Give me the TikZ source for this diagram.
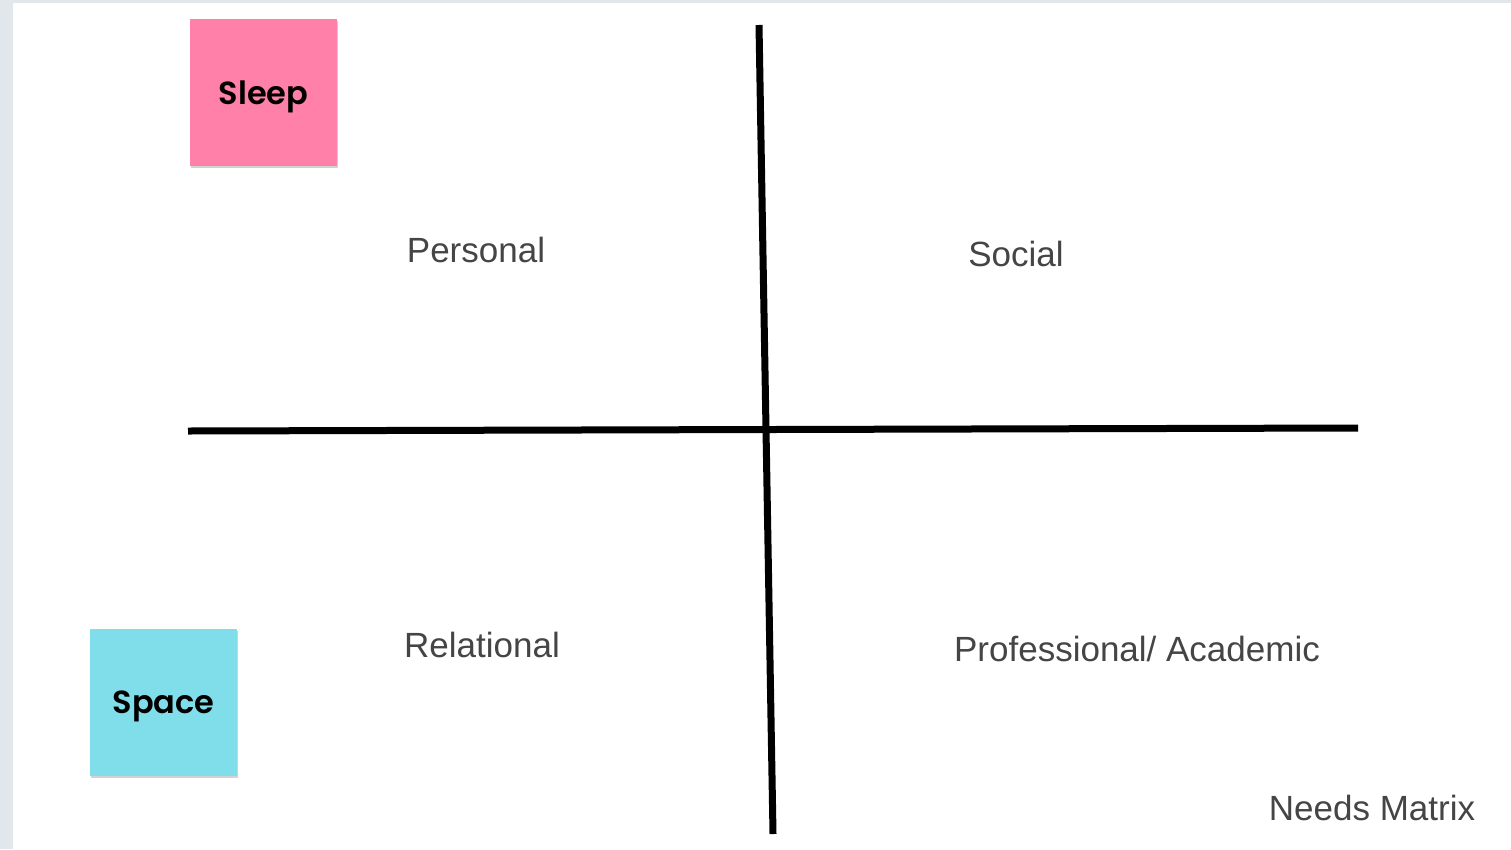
\documentclass[tikz,border=0pt]{standalone}
\usepackage{fontspec}
\setmainfont{Liberation Sans}
\newfontfamily\notefont{Poppins}[UprightFont=* SemiBold,BoldFont=* Bold]
\usetikzlibrary{shadows}
\definecolor{framegrey}{HTML}{E1E7EA}
\definecolor{notepink}{HTML}{FF80A8}
\definecolor{notecyan}{HTML}{80DEEA}
\definecolor{labelgrey}{HTML}{454545}
\tikzset{
  note/.style={minimum width=147pt,minimum height=147pt,inner sep=0pt,
    drop shadow={shadow xshift=1pt,shadow yshift=-2pt,fill=black!35,opacity=0.5}},
  notetext/.style={font=\notefont\fontsize{32}{36}\selectfont,text=black,inner sep=0pt,anchor=base},
  quadlabel/.style={font=\fontsize{35}{40}\selectfont,text=labelgrey,inner sep=0pt},
  axis/.style={line width=7pt,black}
}
\begin{document}
\begin{tikzpicture}[x=1pt,y=-1pt]
\useasboundingbox (0,0) rectangle (1511,849);
\fill[framegrey] (0,0) rectangle (1511,849);
\fill[white] (13,3) rectangle (1511,849);
% axes
\coordinate (vtop) at (759,25);
\coordinate (vbot) at (773,834);
\coordinate (hleft) at (188,431);
\coordinate (hright) at (1358,428);
\draw[axis] (vtop) -- (vbot);
\draw[axis] (hleft) -- (hright);
% notes
\node[note,fill=notepink] (sleep) at (263.5,92.5) {};
\node[notetext] (sleeptext) at (263.5,104) {Sleep};
\node[note,fill=notecyan] (space) at (163.5,702.5) {};
\node[notetext] (spacetext) at (163.5,713) {Space};
% labels
\node[quadlabel] (personal) at (476,250) {Personal};
\node[quadlabel] (social) at (1016,254) {Social};
\node[quadlabel] (relational) at (482,645) {Relational};
\node[quadlabel] (prof) at (1137,649) {Professional/ Academic};
\node[quadlabel] (title) at (1372,808) {Needs Matrix};
\end{tikzpicture}
\end{document}
